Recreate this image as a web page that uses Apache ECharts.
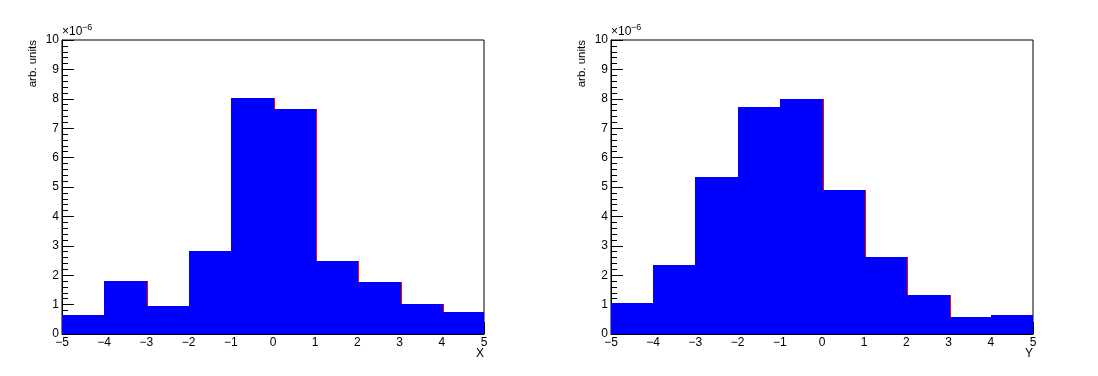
<!DOCTYPE html>
<html>
<head>
<meta charset="utf-8">
<script src="https://cdn.jsdelivr.net/npm/echarts@6/dist/echarts.min.js"></script>
<style>
html,body{margin:0;padding:0;background:#fff;}
#chart{width:1098px;height:376px;}
</style>
</head>
<body>
<div id="chart"></div>
<script>
// Bin edges shared by both histograms
const binEdges = [-5, -4, -3, -2, -1, 0, 1, 2, 3, 4, 5];
// Bin contents in units of 1e-6 (arb. units)
const xHistValues = [0.655, 1.81, 0.96, 2.83, 8.02, 7.65, 2.49, 1.78, 1.03, 0.76];
const yHistValues = [1.06, 2.35, 5.34, 7.72, 7.99, 4.90, 2.62, 1.33, 0.59, 0.65];
const xTickLabels = ['\u22125', '\u22124', '\u22123', '\u22122', '\u22121', '0', '1', '2', '3', '4', '5'];
const yTickLabels = ['0', '1', '2', '3', '4', '5', '6', '7', '8', '9', '10'];
const axisTitles = ['X', 'Y'];
const yTitle = 'arb. units';
const scaleText = '\u00d710';
const scaleExp = '\u22126';

const FONT = '"Liberation Sans", Arial, Helvetica, sans-serif';

function buildData(values) {
  return values.map((v, i) => [binEdges[i], binEdges[i + 1], v, i + 1 < values.length ? values[i + 1] : -1]);
}

function renderBar(params, api) {
  const x0 = api.value(0), x1 = api.value(1), v = api.value(2);
  const pTop = api.coord([x0, v]);
  const pBot = api.coord([x1, 0]);
  const xl = Math.round(pTop[0]), xr = Math.round(pBot[0]);
  const yt = Math.round(pTop[1]), yb = Math.round(pBot[1]);
  return {
    type: 'rect',
    shape: { x: xl, y: yt, width: xr - xl + 1, height: yb - yt },
    style: { fill: '#0000ff' }
  };
}

function renderEdge(params, api) {
  const x1 = api.value(1), v = api.value(2), next = api.value(3);
  if (!(next >= 0 && next < v)) return null;
  const pTop = api.coord([x1, v]);
  const pn = api.coord([x1, next]);
  const xr = Math.round(pTop[0]);
  const yt = Math.round(pTop[1]), yn = Math.round(pn[1]);
  return {
    type: 'rect',
    shape: { x: xr + 1, y: yt, width: 1, height: yn - yt },
    style: { fill: '#ff0000' }
  };
}

const grids = [
  { left: 62, right: 614, top: 40, bottom: 42 },
  { left: 611, right: 65, top: 40, bottom: 42 }
];

function xAxisFor(gi) {
  return {
    type: 'value', gridIndex: gi, min: -5, max: 5, interval: 1,
    axisLine: { show: true, onZero: false, lineStyle: { color: '#000', width: 1 } },
    axisTick: { show: true, inside: true, length: 12, lineStyle: { color: '#000' } },
    splitLine: { show: false },
    axisLabel: {
      color: '#000', fontFamily: FONT, fontSize: 12, margin: 3,
      formatter: (val) => xTickLabels[binEdges.indexOf(Math.round(val))]
    }
  };
}
function yAxisFor(gi) {
  return {
    type: 'value', gridIndex: gi, min: 0, max: 10, interval: 1,
    axisLine: { show: true, onZero: false, lineStyle: { color: '#000', width: 1 } },
    axisTick: { show: true, inside: true, length: 12, lineStyle: { color: '#000' } },
    minorTick: { show: true, splitNumber: 5, length: 6, lineStyle: { color: '#000' } },
    splitLine: { show: false },
    axisLabel: {
      color: '#000', fontFamily: FONT, fontSize: 12, margin: 3,
      formatter: (val) => yTickLabels[Math.round(val)]
    }
  };
}

const graphics = [];
[[62, 484], [611, 1033]].forEach((g, i) => {
  graphics.push({ type: 'text', rotation: Math.PI / 2,
    style: { text: yTitle, font: '11.5px ' + FONT, fill: '#000', align: 'right', verticalAlign: 'middle' },
    x: g[0] - 29, y: 40, z: 10 });
  graphics.push({ type: 'text', x: g[0], y: 38, z: 10,
    style: { text: scaleText, font: '12px ' + FONT, fill: '#000', align: 'left', verticalAlign: 'bottom' } });
  graphics.push({ type: 'text', x: g[0] + 20, y: 32, z: 10,
    style: { text: scaleExp, font: '9px ' + FONT, fill: '#000', align: 'left', verticalAlign: 'bottom' } });
  graphics.push({ type: 'text', x: g[1], y: 354, z: 10,
    style: { text: axisTitles[i], font: '12px ' + FONT, fill: '#000', align: 'right', verticalAlign: 'middle' } });
});

const histSets = [xHistValues, yHistValues];
const series = [];
histSets.forEach((vals, gi) => {
  series.push({ type: 'custom', xAxisIndex: gi, yAxisIndex: gi, renderItem: renderBar, data: buildData(vals),
    encode: { x: [0, 1], y: 2 }, clip: true, z: 2 });
  series.push({ type: 'custom', xAxisIndex: gi, yAxisIndex: gi, renderItem: renderEdge, data: buildData(vals),
    encode: { x: [0, 1], y: 2 }, clip: false, z: 3 });
});

const chart = echarts.init(document.getElementById('chart'), null, { renderer: 'canvas' });
chart.setOption({
  animation: false,
  backgroundColor: '#fff',
  grid: grids.map(g => Object.assign({ show: true, borderColor: '#000', borderWidth: 1, backgroundColor: 'transparent' }, g)),
  xAxis: [xAxisFor(0), xAxisFor(1)],
  yAxis: [yAxisFor(0), yAxisFor(1)],
  series: series,
  graphic: graphics
});
</script>
</body>
</html>
